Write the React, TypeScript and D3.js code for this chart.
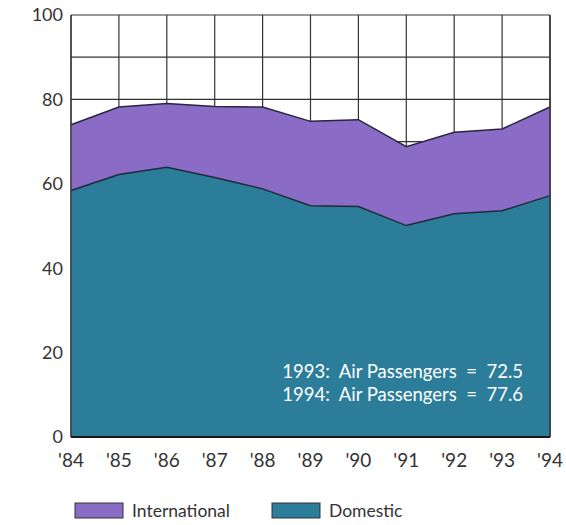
import React from "react";
import * as d3 from "d3";

const years = ["'84", "'85", "'86", "'87", "'88", "'89", "'90", "'91", "'92", "'93", "'94"];
const domestic = [58.4, 62.2, 63.9, 61.5, 58.8, 54.8, 54.6, 50.1, 52.9, 53.6, 57.2];
const international = [15.6, 16.0, 15.1, 16.8, 19.4, 20.0, 20.6, 18.7, 19.3, 19.4, 21.0];
const yTicks = [0, 20, 40, 60, 80, 100];
const gridY = [10, 20, 30, 40, 50, 60, 70, 80, 90, 100];
const notes = ["1993:  Air Passengers  =  72.5", "1994:  Air Passengers  =  77.6"];
const legendItems = [
  { label: "International", color: "#8a6cc6" },
  { label: "Domestic", color: "#2b7d99" },
];

const W = 566, H = 525;
const L = 71, R = 550, T = 15, B = 437;
const FONT = "Lato, 'DejaVu Sans', sans-serif";

export default function App() {
  const x = d3.scalePoint<string>().domain(years).range([L, R]);
  const y = d3.scaleLinear().domain([0, 100]).range([B, T]);
  const idx = years.map((_, i) => i);
  const total = idx.map((i) => domestic[i] + international[i]);

  const domArea = d3.area<number>().x((i) => x(years[i])!).y0(y(0)).y1((i) => y(domestic[i]));
  const intArea = d3.area<number>().x((i) => x(years[i])!).y0((i) => y(domestic[i])).y1((i) => y(total[i]));
  const domLine = d3.line<number>().x((i) => x(years[i])!).y((i) => y(domestic[i]));
  const totLine = d3.line<number>().x((i) => x(years[i])!).y((i) => y(total[i]));

  return (
    <svg width={W} height={H} style={{ position: "absolute", left: 0, top: 0, background: "#fff" }}>
      <rect x={0} y={0} width={W} height={H} fill="#fff" />
      {gridY.map((v) => (
        <line key={"gy" + v} x1={L} x2={R} y1={y(v)} y2={y(v)} stroke="#333" strokeWidth={1.2} />
      ))}
      {years.map((yr) => (
        <line key={"gx" + yr} x1={x(yr)} x2={x(yr)} y1={T} y2={B} stroke="#333" strokeWidth={1.2} />
      ))}
      <path d={intArea(idx)!} fill={legendItems[0].color} />
      <path d={domArea(idx)!} fill={legendItems[1].color} />
      <path d={totLine(idx)!} fill="none" stroke="#2a2440" strokeWidth={1.5} />
      <path d={domLine(idx)!} fill="none" stroke="#1e2a3a" strokeWidth={1.5} />
      <line x1={L} x2={L} y1={T} y2={B} stroke="#333" strokeWidth={1.2} />
      <line x1={R} x2={R} y1={T} y2={B} stroke="#333" strokeWidth={1.5} />
      <line x1={L} x2={R} y1={B} y2={B} stroke="#1a1a1a" strokeWidth={2} />
      {yTicks.map((v) => (
        <text key={"yt" + v} x={63} y={y(v)} dy="0.35em" textAnchor="end" fontFamily={FONT} fontSize={18} fill="#333">
          {v}
        </text>
      ))}
      {years.map((yr) => (
        <text key={"xt" + yr} x={x(yr)} y={467} textAnchor="middle" fontFamily={FONT} fontSize={19} fill="#333">
          {yr}
        </text>
      ))}
      {notes.map((n, i) => (
        <text key={"n" + i} x={523} y={378 + i * 23} textAnchor="end" fontFamily={FONT} fontSize={18.5} fill="#fff" style={{ whiteSpace: "pre" }}>
          {n}
        </text>
      ))}
      {legendItems.map((it, i) => {
        const lx = i === 0 ? 75 : 272;
        return (
          <g key={it.label}>
            <rect x={lx} y={503} width={48} height={15} fill={it.color} stroke="#333" strokeWidth={1} />
            <text x={lx + 57} y={517} fontFamily={FONT} fontSize={17.5} fill="#333">
              {it.label}
            </text>
          </g>
        );
      })}
    </svg>
  );
}
